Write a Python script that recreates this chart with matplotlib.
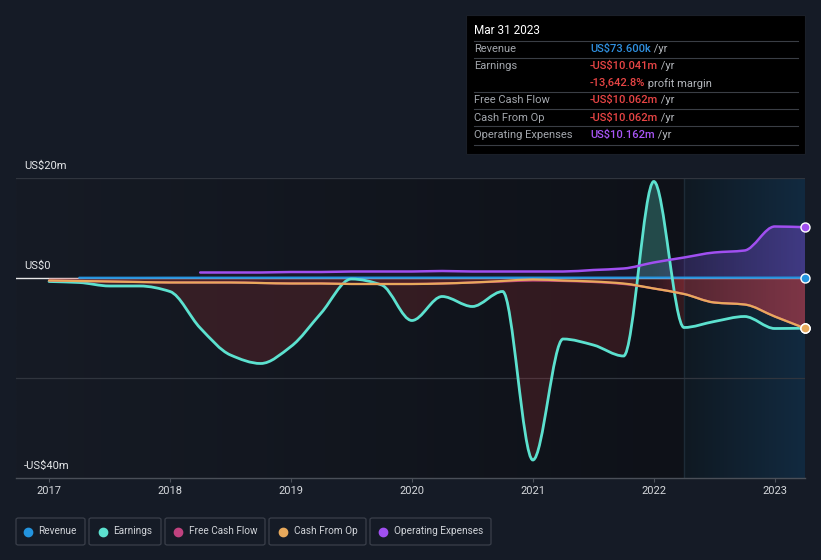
import numpy as np
import matplotlib
matplotlib.use('Agg')
import matplotlib.pyplot as plt
from matplotlib.path import Path
from matplotlib.patches import PathPatch, Rectangle, FancyBboxPatch
from matplotlib.lines import Line2D

plt.rcParams['font.family'] = ['Roboto', 'DejaVu Sans']

# 数据 (单位: 百万美元, 按季度)
dates = [2017.0, 2017.25, 2017.5, 2017.75, 2018.0, 2018.25, 2018.5, 2018.75,
         2019.0, 2019.25, 2019.5, 2019.75, 2020.0, 2020.25, 2020.5, 2020.75,
         2021.0, 2021.25, 2021.5, 2021.75, 2022.0, 2022.25, 2022.5, 2022.75,
         2023.0, 2023.25]
earnings = [-0.7, -0.9, -1.6, -1.6, -2.7, -10.0, -15.4, -17.1,
            -13.7, -7.0, -0.2, -1.4, -8.5, -3.7, -5.7, -2.7,
            -36.4, -12.2, -13.4, -15.6, 19.3, -9.9, -8.7, -7.7,
            -10.1, -10.041]
cash_from_op = [-0.5, -0.6, -0.7, -0.8, -0.9, -0.9, -0.9, -1.0,
                -1.1, -1.1, -1.2, -1.2, -1.2, -1.1, -0.9, -0.6,
                -0.3, -0.5, -0.7, -1.1, -2.1, -3.2, -4.9, -5.3,
                -7.7, -10.062]
free_cash_flow = [-0.5, -0.6, -0.7, -0.8, -0.9, -0.9, -0.9, -1.0,
                  -1.1, -1.1, -1.2, -1.2, -1.2, -1.1, -0.9, -0.7,
                  -0.5, -0.6, -0.8, -1.2, -2.1, -3.2, -4.9, -5.3,
                  -7.7, -10.062]
revenue_dates = dates[1:]
revenue = [0.05, 0.05, 0.05, 0.06, 0.06, 0.06, 0.06, 0.07, 0.07, 0.07,
           0.07, 0.07, 0.07, 0.07, 0.07, 0.07, 0.07, 0.07, 0.07, 0.07,
           0.07, 0.07, 0.07, 0.07, 0.0736]
opex_dates = dates[5:]
opex = [1.1, 1.1, 1.1, 1.2, 1.2, 1.3, 1.3, 1.3, 1.4, 1.3, 1.3,
        1.3, 1.3, 1.6, 1.9, 3.1, 4.1, 5.1, 5.5, 10.3, 10.162]

year_ticks = [2017, 2018, 2019, 2020, 2021, 2022, 2023]
y_labels = {20: 'US$20m', 0: 'US$0', -40: '-US$40m'}
forecast_start = 2022.25

C_REV = '#2394df'
C_EARN = '#5ce1cf'
C_FCF = '#c0427f'
C_CFO = '#e8a95c'
C_OPEX = '#a04ff0'
BG = '#151b26'

W, H = 821, 560
fig = plt.figure(figsize=(W / 100, H / 100), dpi=100, facecolor=BG)
ax = fig.add_axes([16 / W, 1 - 478 / H, (805 - 16) / W, (478 - 178) / H])
x0, x1 = 2016.727, 2023.25
y0, y1 = -40, 20


def smooth(x, y):
    # monotone cubic -> bezier
    x = np.asarray(x, float)
    y = np.asarray(y, float)
    h = np.diff(x)
    d = np.diff(y) / h
    m = np.zeros_like(y)
    m[0], m[-1] = d[0], d[-1]
    for i in range(1, len(y) - 1):
        if d[i - 1] * d[i] > 0:
            m[i] = 2 / (1 / d[i - 1] + 1 / d[i])
    verts = [(x[0], y[0])]
    codes = [Path.MOVETO]
    for i in range(len(x) - 1):
        verts += [(x[i] + h[i] / 3, y[i] + m[i] * h[i] / 3),
                  (x[i + 1] - h[i] / 3, y[i + 1] - m[i + 1] * h[i] / 3),
                  (x[i + 1], y[i + 1])]
        codes += [Path.CURVE4] * 3
    return verts, codes


def line_path(x, y):
    v, c = smooth(x, y)
    return Path(v, c)


def fill_path(x, y):
    v, c = smooth(x, y)
    v = v + [(x[-1], 0), (x[0], 0), (x[0], y[0])]
    c = c + [Path.LINETO, Path.LINETO, Path.CLOSEPOLY]
    return Path(v, c)


# 背景渐变
cols = np.linspace(0, 1, 300)[:, None]
left = np.array([0x16, 0x1b, 0x25]) / 255
right = np.array([0x0e, 0x11, 0x18]) / 255
grad = left * (1 - cols) + right * cols
ax.imshow(grad[None, :, :], extent=[x0, forecast_start, y0, y1], aspect='auto', zorder=0)
fc_l = np.array([0x0f, 0x19, 0x22]) / 255
fc_r = np.array([0x12, 0x2a, 0x40]) / 255
fgrad = fc_l * (1 - cols) + fc_r * cols
ax.imshow(fgrad[None, :, :], extent=[forecast_start, x1, y0, y1], aspect='auto', zorder=0)
ax.axvline(forecast_start, color='#1d2b37', lw=1, zorder=1)

# 网格线
for v in (20, -20):
    ax.axhline(v, color='#30353e', lw=0.9, zorder=1)
ax.axhline(0, color='#e8e8e8', lw=1, zorder=1)


# 填充
def gradient_fill(x, y, rgb, alphas):
    patch = PathPatch(fill_path(x, y), facecolor='none', edgecolor='none')
    ax.add_patch(patch)
    xs = np.linspace(x0, x1, 400)
    a = np.interp(xs, [x0, 2022.0, forecast_start, x1], alphas)
    img = np.zeros((1, len(xs), 4))
    img[0, :, :3] = rgb
    img[0, :, 3] = a
    im = ax.imshow(img, extent=[x0, x1, y0, y1], aspect='auto', zorder=2)
    im.set_clip_path(patch)


red_patch = PathPatch(fill_path(dates, earnings), facecolor='#c23a3a', alpha=0.2,
                      edgecolor='none', zorder=2)
ax.add_patch(red_patch)
red_patch.set_clip_path(Rectangle((x0, y0), forecast_start - x0, -y0, transform=ax.transData))
teal_patch = PathPatch(fill_path(dates, earnings), facecolor=C_EARN, alpha=0.28,
                       edgecolor='none', zorder=2)
ax.add_patch(teal_patch)
teal_patch.set_clip_path(Rectangle((x0, 0), x1 - x0, y1, transform=ax.transData))

gradient_fill(dates, free_cash_flow, (0.85, 0.25, 0.30), [0.10, 0.15, 0.35, 0.55])
gradient_fill(opex_dates, opex, (0.55, 0.33, 0.95), [0.03, 0.10, 0.22, 0.38])

# 线
series = [(revenue_dates, revenue, C_REV, 1.6),
          (dates, earnings, C_EARN, 2.0),
          (dates, free_cash_flow, C_FCF, 1.6),
          (dates, cash_from_op, C_CFO, 1.6),
          (opex_dates, opex, C_OPEX, 1.8)]
for xs, ys, col, lw in series:
    ax.add_patch(PathPatch(line_path(xs, ys), facecolor='none', edgecolor=col,
                           lw=lw, zorder=4, capstyle='round'))
for xs, ys, col, lw in series:
    ax.plot(xs[-1], ys[-1], 'o', color=col, ms=6.5, mec='white', mew=1,
            zorder=6, clip_on=False)

ax.set_xlim(x0, x1)
ax.set_ylim(y0, y1)
ax.set_xticks(year_ticks)
ax.set_xticklabels([str(y) for y in year_ticks])
ax.tick_params(axis='x', colors='#4a4f58', labelcolor='#d5d8dc', labelsize=8,
               length=3, pad=3)
ax.set_yticks([])
for s in ['top', 'left', 'right']:
    ax.spines[s].set_visible(False)
ax.spines['bottom'].set_color('#4a4f58')
ax.spines['bottom'].set_linewidth(1)
for v, lab in y_labels.items():
    ax.annotate(lab, xy=(0, v), xycoords=('axes fraction', 'data'),
                xytext=(8, 12), textcoords='offset pixels', color='#e6e8ea',
                fontsize=8, va='center', ha='left', annotation_clip=False)


def F(px, py):
    return px / W, 1 - py / H


# 提示框
fig.patches.append(Rectangle(F(466, 154), (805 - 466) / W, (154 - 15) / H,
                             transform=fig.transFigure, facecolor='#000000',
                             edgecolor='#1a1f28', lw=0.8, zorder=5))
fig.text(*F(474, 31), 'Mar 31 2023', color='white', fontsize=8.5, va='center', zorder=6)
for py in (41.3, 58, 92, 109, 126, 144.5):
    fig.add_artist(Line2D([474 / W, 798 / W], [1 - py / H] * 2, color='#3a3e45',
                          lw=0.8, transform=fig.transFigure, zorder=6))
rows = [(49, 'Revenue', 'US$73.600k', '#2f90e0', ' /yr'),
        (66.3, 'Earnings', '-US$10.041m', '#e84545', ' /yr'),
        (83.3, '', '-13,642.8%', '#e84545', ' profit margin'),
        (100.3, 'Free Cash Flow', '-US$10.062m', '#e84545', ' /yr'),
        (117.7, 'Cash From Op', '-US$10.062m', '#e84545', ' /yr'),
        (135, 'Operating Expenses', 'US$10.162m', '#a855f7', ' /yr')]
renderer = fig.canvas.get_renderer()
for py, lab, val, col, suffix in rows:
    if lab:
        fig.text(*F(474, py), lab, color='#a3a7ad', fontsize=8, va='center', zorder=6)
    t = fig.text(*F(590, py), val, color=col, fontsize=8, va='center',
                 fontweight='medium', zorder=6)
    w = t.get_window_extent(renderer).width
    fig.text((590 + w) / W, 1 - py / H, suffix, color='#b4b7bc', fontsize=8,
             va='center', zorder=6)

# 图例
legend = [('Revenue', C_REV, 16, 85, 27.7, 38.3),
          ('Earnings', C_EARN, 89, 161, 102.7, 113.3),
          ('Free Cash Flow', C_FCF, 165, 265, 178.3, 189),
          ('Cash From Op', C_CFO, 269, 366, 283, 293.7),
          ('Operating Expenses', C_OPEX, 370, 491, 383.3, 393.7)]
for name, col, bx0, bx1, dx, tx in legend:
    fig.patches.append(FancyBboxPatch(F(bx0, 545), (bx1 - bx0) / W, 27 / H,
                                      boxstyle='round,pad=0,rounding_size=0.003',
                                      transform=fig.transFigure, facecolor=BG,
                                      edgecolor='#3a3f4a', lw=0.9))
    fig.add_artist(Line2D([dx / W], [1 - 531.5 / H], marker='o', ms=6, color=col,
                          lw=0, transform=fig.transFigure))
    fig.text(*F(tx, 531.5), name, color='#d0d3d8', fontsize=7.2, va='center')

fig.savefig('out.png', dpi=100, facecolor=BG)
